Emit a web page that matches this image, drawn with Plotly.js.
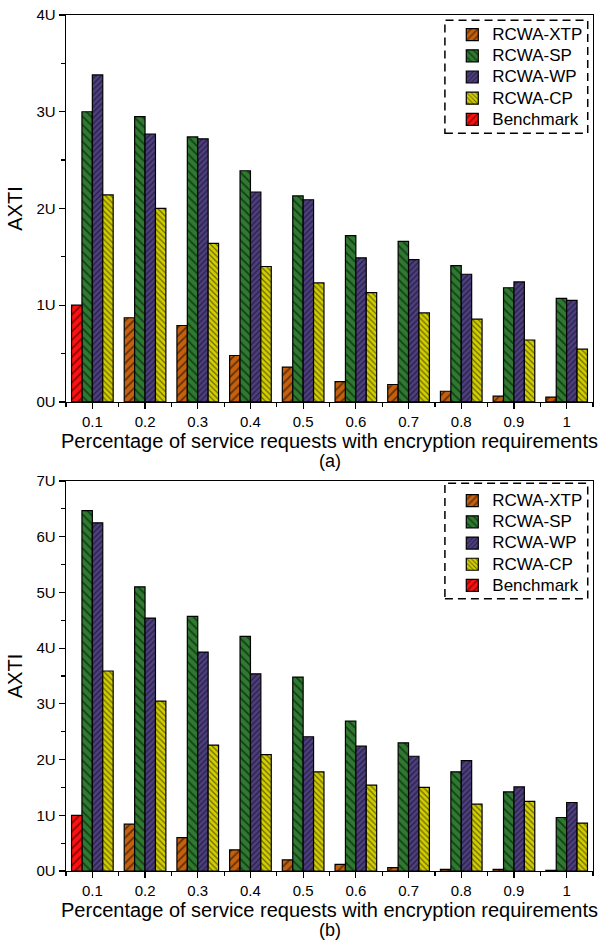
<!DOCTYPE html>
<html>
<head>
<meta charset="utf-8">
<script src="https://cdn.plot.ly/plotly-3.0.1.min.js"></script>
<style>
  html, body { margin: 0; padding: 0; background: #fff; }
  #chart { width: 601px; height: 944px; }
</style>
</head>
<body>
<div id="chart"></div>
<script>
// Share of service requests with encryption requirements
const categories = ['0.1', '0.2', '0.3', '0.4', '0.5', '0.6', '0.7', '0.8', '0.9', '1'];

// Panel (a)
const xtpA   = [null, 0.87, 0.79, 0.48, 0.36, 0.21, 0.18, 0.11, 0.06, 0.05];
const spA    = [3.00, 2.95, 2.74, 2.39, 2.13, 1.72, 1.66, 1.41, 1.18, 1.07];
const wpA    = [3.38, 2.77, 2.72, 2.17, 2.09, 1.49, 1.47, 1.32, 1.24, 1.05];
const cpA    = [2.14, 2.00, 1.64, 1.40, 1.23, 1.13, 0.92, 0.855, 0.64, 0.545];
const benchA = [1.00, null, null, null, null, null, null, null, null, null];

// Panel (b)
const xtpB   = [null, 0.84, 0.60, 0.38, 0.20, 0.12, 0.06, 0.03, 0.03, 0.012];
const spB    = [6.47, 5.10, 4.57, 4.21, 3.48, 2.69, 2.30, 1.78, 1.42, 0.96];
const wpB    = [6.25, 4.54, 3.93, 3.54, 2.41, 2.24, 2.06, 1.98, 1.51, 1.23];
const cpB    = [3.59, 3.05, 2.26, 2.09, 1.78, 1.54, 1.50, 1.20, 1.25, 0.86];
const benchB = [1.00, null, null, null, null, null, null, null, null, null];

const seriesNames = ['RCWA-XTP', 'RCWA-SP', 'RCWA-WP', 'RCWA-CP', 'Benchmark'];
const tickLabels = categories;
const xIndex = categories.map((c, i) => i);

const FONT = 'Arial, "Liberation Sans", sans-serif';

// Legend rows are spaced from a 14px base font; the label itself is drawn larger.
const legendLabel = (s) => '<span style="font-size:17px">' + s + '</span>';

const styles = {
  xtp:   { name: seriesNames[0], color: '#C4600E', shape: '/',  size: 6, group: 'g1' },
  sp:    { name: seriesNames[1], color: '#2E7A30', shape: '\\', size: 6, group: 'g2' },
  wp:    { name: seriesNames[2], color: '#4E3F80', shape: '/',  size: 4, group: 'g3' },
  cp:    { name: seriesNames[3], color: '#D2CE00', shape: '\\', size: 4, group: 'g4' },
  bench: { name: seriesNames[4], color: '#FF1010', shape: '/',  size: 6, group: 'g1' }
};

function barTrace(st, values, xa, ya, legend) {
  return {
    type: 'bar',
    name: legendLabel(st.name),
    x: xIndex,
    y: values,
    xaxis: xa,
    yaxis: ya,
    legend: legend,
    offsetgroup: st.group,
    marker: {
      color: st.color,
      line: { color: '#000', width: 1.2 },
      pattern: { shape: st.shape, fgcolor: '#000', bgcolor: st.color, size: st.size, solidity: 0.3, fillmode: 'overlay' }
    },
    hoverinfo: 'x+y+name'
  };
}

const data = [
  barTrace(styles.xtp, xtpA, 'x', 'y', 'legend'),
  barTrace(styles.sp, spA, 'x', 'y', 'legend'),
  barTrace(styles.wp, wpA, 'x', 'y', 'legend'),
  barTrace(styles.cp, cpA, 'x', 'y', 'legend'),
  barTrace(styles.bench, benchA, 'x', 'y', 'legend'),
  barTrace(styles.xtp, xtpB, 'x2', 'y2', 'legend2'),
  barTrace(styles.sp, spB, 'x2', 'y2', 'legend2'),
  barTrace(styles.wp, wpB, 'x2', 'y2', 'legend2'),
  barTrace(styles.cp, cpB, 'x2', 'y2', 'legend2'),
  barTrace(styles.bench, benchB, 'x2', 'y2', 'legend2')
];

function xAxis(anchor) {
  return {
    anchor: anchor,
    domain: [0, 1],
    range: [-0.5, 9.5],
    tickmode: 'array',
    tickvals: xIndex,
    ticktext: tickLabels,
    ticks: 'outside', ticklen: 6, tickwidth: 1.2, tickcolor: '#000',
    minor: { tickmode: 'linear', tick0: -0.5, dtick: 1, ticks: 'outside', ticklen: 4, tickwidth: 1.2, tickcolor: '#000' },
    showline: true, linecolor: '#000', linewidth: 1.3, mirror: true,
    showgrid: false, zeroline: false,
    tickfont: { family: FONT, size: 15, color: '#000' },
    title: { text: 'Percentage of service requests with encryption requirements', font: { family: FONT, size: 20, color: '#000' }, standoff: 0 }
  };
}

function yAxis(anchor, domain, top) {
  return {
    anchor: anchor,
    domain: domain,
    range: [0, top],
    dtick: 1,
    ticksuffix: 'U',
    ticks: 'outside', ticklen: 6, tickwidth: 1.2, tickcolor: '#000',
    minor: { dtick: 0.5, ticks: 'outside', ticklen: 4, tickwidth: 1.2, tickcolor: '#000' },
    showline: true, linecolor: '#000', linewidth: 1.3, mirror: true,
    showgrid: false, zeroline: false,
    tickfont: { family: FONT, size: 15, color: '#000' },
    title: { text: 'AXTI', font: { family: FONT, size: 20, color: '#000' }, standoff: 8 }
  };
}

function legendBox(yTop) {
  return {
    x: 0.733, y: yTop, xanchor: 'left', yanchor: 'top',
    xref: 'paper', yref: 'paper',
    bgcolor: 'rgba(0,0,0,0)', borderwidth: 0,
    font: { family: FONT, size: 14, color: '#000' },
    tracegroupgap: 0, traceorder: 'normal'
  };
}

const layout = {
  width: 601, height: 944,
  margin: { l: 66, r: 8, t: 15, b: 73 },
  paper_bgcolor: '#fff', plot_bgcolor: '#fff',
  font: { family: FONT, color: '#000' },
  barmode: 'group', bargap: 0.21, bargroupgap: 0,
  showlegend: true,
  xaxis: xAxis('y'),
  yaxis: yAxis('x', [0.548, 1], 4),
  xaxis2: xAxis('y2'),
  yaxis2: yAxis('x2', [0, 0.4556], 7),
  legend: legendBox(0.9953),
  legend2: legendBox(0.4509),
  shapes: [
    { type: 'rect', xref: 'paper', yref: 'paper', x0: 0.719, x1: 0.990, y0: 0.862, y1: 0.994,
      line: { color: '#000', width: 1.5, dash: '8px,5px' }, fillcolor: 'rgba(0,0,0,0)' },
    { type: 'rect', xref: 'paper', yref: 'paper', x0: 0.719, x1: 0.990, y0: 0.318, y1: 0.453,
      line: { color: '#000', width: 1.5, dash: '8px,5px' }, fillcolor: 'rgba(0,0,0,0)' }
  ],
  annotations: [
    { text: '(a)', xref: 'paper', yref: 'paper', x: 0.5, y: 0.479, xanchor: 'center', yanchor: 'middle',
      showarrow: false, font: { family: FONT, size: 18, color: '#000' } },
    { text: '(b)', xref: 'paper', yref: 'paper', x: 0.5, y: -0.0689, xanchor: 'center', yanchor: 'middle',
      showarrow: false, font: { family: FONT, size: 18, color: '#000' } }
  ]
};

Plotly.newPlot('chart', data, layout, { displayModeBar: false, staticPlot: true });
</script>
</body>
</html>
